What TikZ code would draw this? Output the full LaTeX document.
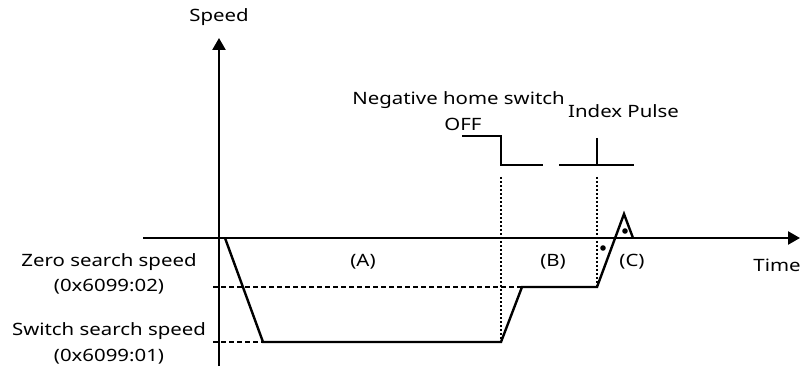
\documentclass[tikz,border=0pt]{standalone}
\usepackage{fontspec}
\setmainfont{Noto Sans}[FakeStretch=1.2]
\usepackage{tikz}
\usetikzlibrary{arrows.meta, positioning}

\begin{document}
\begin{tikzpicture}[x=1pt, y=-1pt, line width=2.4pt,
    lbl/.style={inner sep=0pt, font=\fontsize{17}{20}\selectfont},
    axe/.style={-{Triangle[length=12pt, width=13pt]}},
    pointille/.style={dash pattern=on 2pt off 2pt, line width=2.2pt},
    tirets/.style={dash pattern=on 5pt off 3pt, line width=2pt}]
  \useasboundingbox (0,0) rectangle (800,371);

  % Axes
  \coordinate (ybas) at (219,366);
  \coordinate (yhaut) at (219,38);
  \coordinate (xgauche) at (143,238);
  \coordinate (xdroite) at (800,238);
  \draw[axe] (ybas) -- (yhaut);
  \draw[axe] (xgauche) -- (xdroite);
  \node[lbl, anchor=base] (vitesse) at (219,22) {Speed};
  \node[lbl, anchor=base] (temps) at (777,272) {Time};

  % Profil de vitesse
  \coordinate (p0) at (225,238);
  \coordinate (p1) at (263,342);
  \coordinate (p2) at (501,342);
  \coordinate (p3) at (522,287);
  \coordinate (p4) at (597,287);
  \coordinate (p5) at (624,214);
  \coordinate (p6) at (633,238);
  \draw[line join=miter] (p0) -- (p1) -- (p2) -- (p3) -- (p4) -- (p5) -- (p6);

  % Niveaux de vitesse (tirets)
  \coordinate (zs) at (213,287);
  \coordinate (ss) at (213,342);
  \draw[tirets] (zs) -- (p3);
  \draw[tirets] (ss) -- (p1);
  \node[lbl, anchor=base] (zero) at (109,266) {Zero search speed};
  \node[lbl, anchor=base] (zeroidx) at (109,291) {(0x6099:02)};
  \node[lbl, anchor=base] (switch) at (109,335) {Switch search speed};
  \node[lbl, anchor=base] (switchidx) at (109,361) {(0x6099:01)};

  % Signal du contact de fin de course
  \coordinate (sw0) at (462,136);
  \coordinate (sw1) at (501,136);
  \coordinate (sw2) at (501,165);
  \coordinate (sw3) at (543,165);
  \draw (sw0) -- (sw1) -- (sw2) -- (sw3);
  \node[lbl, anchor=base east] (neg) at (566,105) {Negative home switch};
  \node[lbl, anchor=base] (off) at (463,131) {OFF};

  % Impulsion d'index
  \coordinate (ix0) at (559,165);
  \coordinate (ix1) at (634,165);
  \coordinate (ixh) at (597,138);
  \coordinate (ixb) at (597,165);
  \draw (ix0) -- (ix1);
  \draw (ixh) -- (ixb);
  \node[lbl, anchor=base west] (index) at (567,118) {Index Pulse};

  % Repères verticaux (pointillés)
  \coordinate (v1) at (501,177);
  \coordinate (v2) at (597,177);
  \draw[pointille] (v1) -- (p2);
  \draw[pointille] (v2) -- (p4);

  % Phases
  \node[lbl, anchor=base] (A) at (363,267) {(A)};
  \node[lbl, anchor=base] (B) at (553,267) {(B)};
  \node[lbl, anchor=base] (C) at (632,267) {(C)};
  \fill (603,248) circle (2.8pt);
  \fill (625,231) circle (2.8pt);
\end{tikzpicture}
\end{document}
